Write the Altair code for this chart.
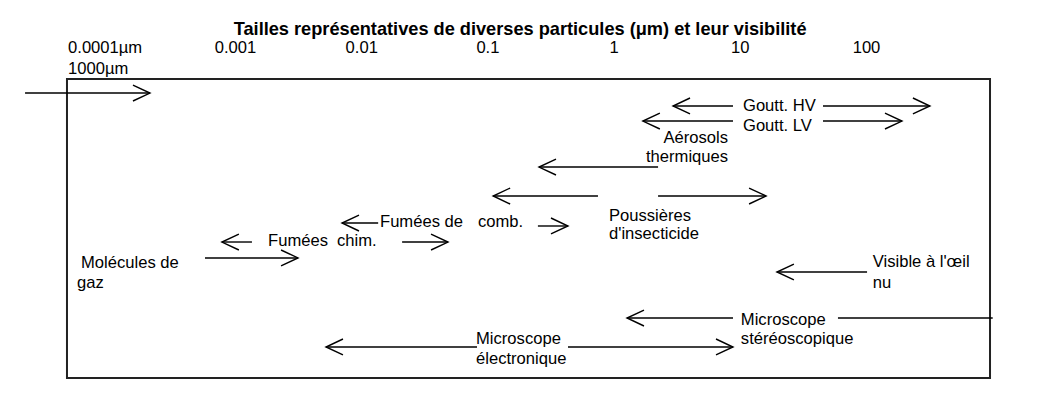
import altair as alt
import pandas as pd

# ---------------- data ----------------
# arrows: tail and tip sizes (µm, log axis), vertical level (0 = top, 100 = bottom), arrow head at tip?
arrow_tail = [2.15e-5, 8.75, 45.2, 8.75, 45.2, 2.23, 0.745, 2.23, 0.0135, 0.249,
              0.00135, 0.0209, 0.000573, 101, 8.75, 59.4, 0.082, 0.431]
arrow_tip = [2.1e-4, 2.93, 318, 1.69, 191, 0.254, 0.11, 16.0, 0.00698, 0.431,
             0.00078, 0.0483, 0.00313, 19.5, 1.265, 1000, 0.00521, 8.75]
arrow_level = [22.14, 25.52, 25.52, 29.43, 29.43, 41.41, 48.96, 48.96, 55.99, 56.77,
               60.94, 60.94, 65.10, 68.75, 80.73, 80.73, 88.28, 88.28]
arrow_head = [True, True, True, True, True, True, True, True, True, True,
              True, True, True, True, True, False, True, True]

# left-aligned labels
label_text = ["Goutt. HV", "Goutt. LV", "Poussières", "d'insecticide",
              "Fumées de", "comb.", "Fumées", "chim.", "Molécules de", "gaz",
              "Visible à l'œil", "nu", "Microscope", "stéréoscopique",
              "Microscope", "électronique"]
label_x = [10.5, 10.5, 0.911, 0.911, 0.01396, 0.0835, 0.00181, 0.00637,
           5.97e-5, 5.55e-5, 112, 112, 10.1, 10.1, 0.0805, 0.0805]
label_level = [25.5, 30.6, 54.17, 58.85, 55.73, 55.73, 60.68, 60.68,
               66.41, 71.61, 66.15, 71.61, 81.25, 86.20, 86.20, 91.41]

# right-aligned labels
rlabel_text = ["Aérosols", "thermiques"]
rlabel_x = [8.0, 8.0]
rlabel_level = [33.85, 38.80]

# scale labels along the top
tick_values = [0.001, 0.01, 0.1, 1, 10, 100]
tick_text = ["0.001", "0.01", "0.1", "1", "10", "100"]
tick_level = 10.4
first_text = ["0.0001µm", "1000µm"]
first_x = [4.71e-5, 4.71e-5]
first_level = [10.4, 15.89]

title_text = ["Tailles représentatives de diverses particules (μm) et leur visibilité"]
title_x = [0.18]
title_level = [5.73]

# frame
frame_x = [4.62e-5]
frame_x2 = [952]
frame_top = [18.49]
frame_bottom = [96.35]

# ---------------- chart ----------------
W, H = 1024, 384
xscale = alt.Scale(type="log", domain=[1.575e-5, 2048], range=[0, W], nice=False, clamp=False)
yscale = alt.Scale(domain=[0, 100], range=[0, H], nice=False, zero=False)
FONT = "Liberation Sans"
FS = 16.6

arrows = pd.DataFrame({"tail": arrow_tail, "tip": arrow_tip, "level": arrow_level, "head": arrow_head})
arrows["dir"] = ["right" if b > a else "left" for a, b in zip(arrows["tail"], arrows["tip"])]
heads = arrows[arrows["head"]]

PATH_R = "M -1 -0.47 L 0 0 L -1 0.47"
PATH_L = "M 1 -0.47 L 0 0 L 1 0.47"

frame = alt.Chart(pd.DataFrame({"x": frame_x, "x2": frame_x2, "y": frame_top, "y2": frame_bottom})).mark_rect(
    fillOpacity=0, stroke="#222222", strokeWidth=2
).encode(
    x=alt.X("x:Q", scale=xscale, axis=None), x2="x2:Q",
    y=alt.Y("y:Q", scale=yscale, axis=None), y2="y2:Q",
)

lines = alt.Chart(arrows).mark_rule(color="black", strokeWidth=1.4).encode(
    x=alt.X("tail:Q", scale=xscale, axis=None), x2="tip:Q",
    y=alt.Y("level:Q", scale=yscale, axis=None),
)

heads_r = alt.Chart(heads[heads["dir"] == "right"]).mark_point(
    shape=PATH_R, size=1156, filled=False, stroke="black", strokeWidth=1.4, opacity=1
).encode(
    x=alt.X("tip:Q", scale=xscale, axis=None),
    y=alt.Y("level:Q", scale=yscale, axis=None),
)
heads_l = alt.Chart(heads[heads["dir"] == "left"]).mark_point(
    shape=PATH_L, size=1156, filled=False, stroke="black", strokeWidth=1.4, opacity=1
).encode(
    x=alt.X("tip:Q", scale=xscale, axis=None),
    y=alt.Y("level:Q", scale=yscale, axis=None),
)

labels = alt.Chart(pd.DataFrame({"t": label_text, "x": label_x, "y": label_level})).mark_text(
    align="left", baseline="middle", font=FONT, fontSize=FS, color="black"
).encode(
    x=alt.X("x:Q", scale=xscale, axis=None), y=alt.Y("y:Q", scale=yscale, axis=None), text="t:N"
)
rlabels = alt.Chart(pd.DataFrame({"t": rlabel_text, "x": rlabel_x, "y": rlabel_level})).mark_text(
    align="right", baseline="middle", font=FONT, fontSize=FS, color="black"
).encode(
    x=alt.X("x:Q", scale=xscale, axis=None), y=alt.Y("y:Q", scale=yscale, axis=None), text="t:N"
)

ticks = alt.Chart(pd.DataFrame({"t": tick_text, "x": tick_values, "y": [tick_level] * len(tick_values)})).mark_text(
    align="center", baseline="middle", font=FONT, fontSize=FS, color="black"
).encode(
    x=alt.X("x:Q", scale=xscale, axis=None), y=alt.Y("y:Q", scale=yscale, axis=None), text="t:N"
)
first = alt.Chart(pd.DataFrame({"t": first_text, "x": first_x, "y": first_level})).mark_text(
    align="left", baseline="middle", font=FONT, fontSize=FS, color="black"
).encode(
    x=alt.X("x:Q", scale=xscale, axis=None), y=alt.Y("y:Q", scale=yscale, axis=None), text="t:N"
)

title = alt.Chart(pd.DataFrame({"t": title_text, "x": title_x, "y": title_level})).mark_text(
    align="center", baseline="middle", font=FONT, fontSize=18.2, fontWeight="bold", color="black"
).encode(
    x=alt.X("x:Q", scale=xscale, axis=None), y=alt.Y("y:Q", scale=yscale, axis=None), text="t:N"
)

chart = alt.layer(frame, lines, heads_r, heads_l, labels, rlabels, ticks, first, title).properties(
    width=W, height=H, padding=0,
    autosize=alt.AutoSizeParams(type="fit", contains="padding"),
).configure_view(stroke=None)

chart.save("out.html", embed_options={"renderer": "svg", "actions": False})
